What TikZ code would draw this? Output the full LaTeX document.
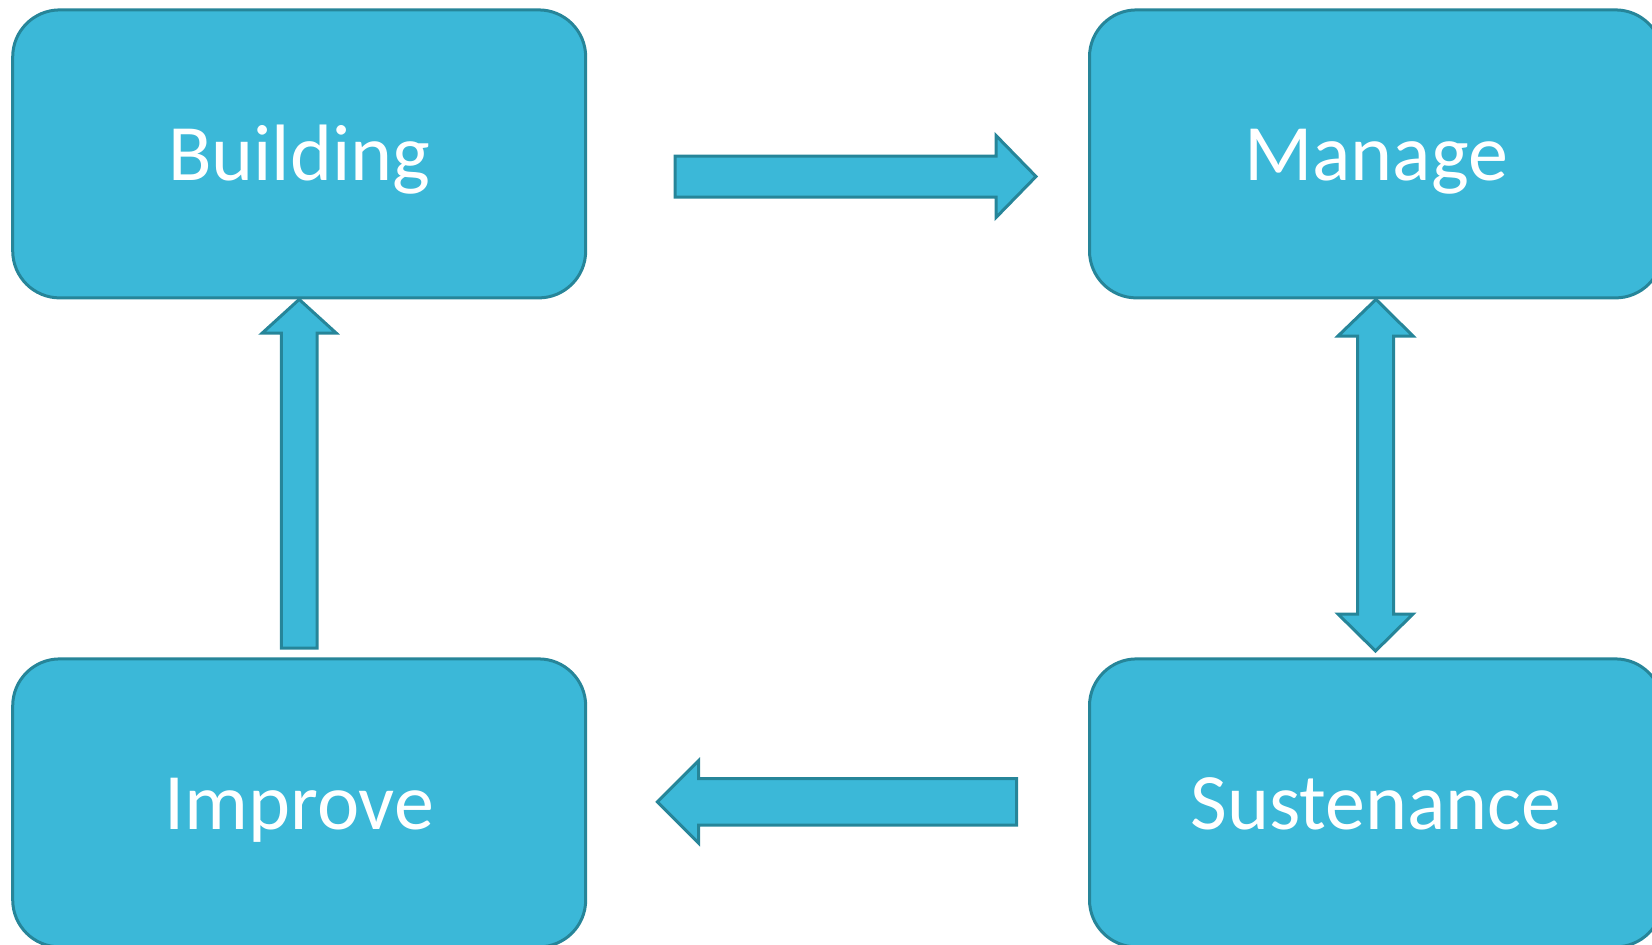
\documentclass[tikz,border=0pt]{standalone}
\usepackage{fontspec}
\setmainfont{Carlito}
\definecolor{boxfill}{RGB}{59,184,216}
\definecolor{boxline}{RGB}{38,133,153}
\tikzset{
  stagebox/.style={draw=boxline, fill=boxfill, line width=3pt, rounded corners=47pt,
    minimum width=573pt, minimum height=288pt, inner sep=0pt,
    font=\fontsize{80}{96}\selectfont, text=white, text height=54pt, text depth=0pt},
  blockarrow/.style={draw=boxline, fill=boxfill, line width=3pt, line join=miter}
}
\begin{document}
\begin{tikzpicture}[x=1pt,y=-1pt]
\useasboundingbox (0,0) rectangle (1652,945);
\node[stagebox] (B) at (299.2,153.9) {Building};
\node[stagebox] (M) at (1376,153.9) {Manage};
\node[stagebox] (I) at (299.2,802.9) {Improve};
\node[stagebox] (S) at (1376,802.9) {Sustenance};
% Building -> Manage
\draw[blockarrow] (675,156) -- (996,156) -- (996,135.5) -- (1036,176.5) -- (996,217.5)
  -- (996,197) -- (675,197) -- cycle;
% Improve -> Building
\draw[blockarrow] (B.south) -- (336.1,333) -- (317.1,333) -- (317.1,648) -- (281.3,648)
  -- (281.3,333) -- (262.3,333) -- cycle;
% Manage <-> Sustenance
\draw[blockarrow] (M.south) -- (1413,336) -- (1393.5,336) -- (1393.5,614) -- (1413,614)
  -- (1375.5,651) -- (1338,614) -- (1357.5,614) -- (1357.5,336) -- (1338,336) -- cycle;
% Sustenance -> Improve
\draw[blockarrow] (657.4,801.8) -- (698.5,760.7) -- (698.5,778.6) -- (1016.7,778.6)
  -- (1016.7,825) -- (698.5,825) -- (698.5,843) -- cycle;
\end{tikzpicture}
\end{document}
